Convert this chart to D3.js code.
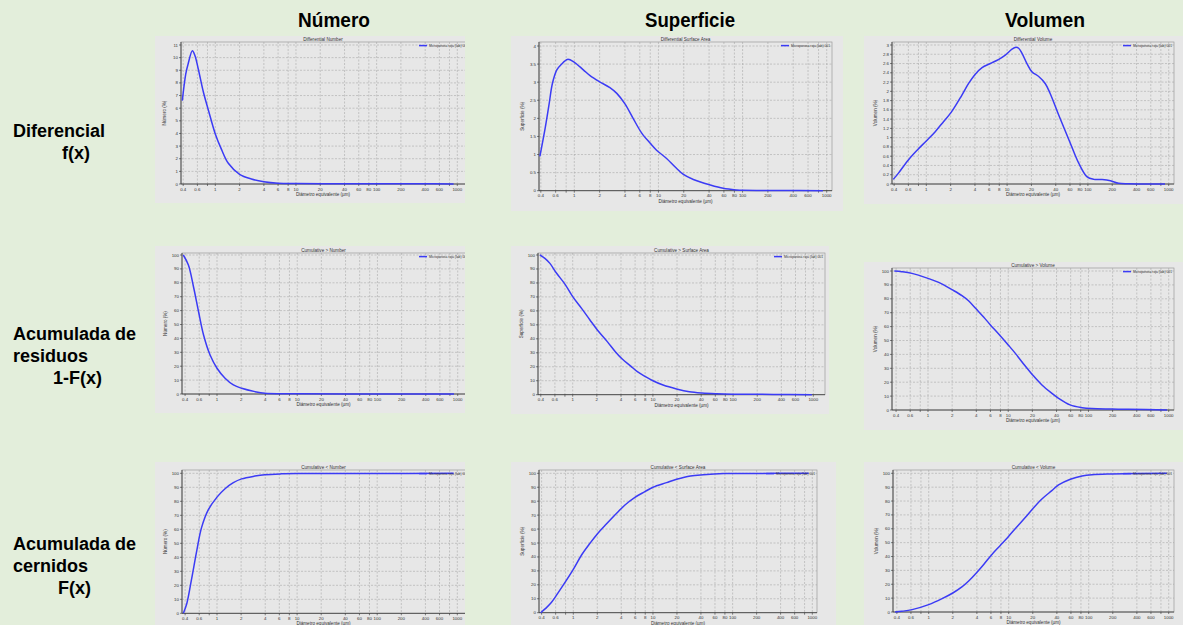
<!DOCTYPE html>
<html>
<head>
<meta charset="utf-8">
<script src="https://cdn.jsdelivr.net/npm/d3@7"></script>
<style>
  body { margin: 0; background: #e3eedb; }
  svg { display: block; font-family: "Liberation Sans", Arial, sans-serif; }
  .panel-box { fill: #e7e7e7; }
  .grid line { stroke: #a9a9a9; stroke-width: 0.6; stroke-dasharray: 2,1.5; }
  .frame { fill: none; stroke: #9a9a9a; stroke-width: 0.7; }
  .axis-line { stroke: #333; stroke-width: 0.8; }
  .tick-mark { stroke: #333; stroke-width: 0.6; }
  .tick-label { font-size: 4.4px; fill: #333; }
  .small-label { font-size: 4.6px; fill: #333; }
  .curve { fill: none; stroke: #3b3bf5; stroke-width: 1.5; }
  .header { font-size: 21px; font-weight: bold; fill: #000; }
  .row-label { font-size: 18px; font-weight: bold; fill: #000; }
</style>
</head>
<body>
<div id="chart"></div>
<script>
// Distribución granulométrica - microporosa roja (lab) 001
// 3 columnas (Número / Superficie / Volumen) x 3 filas (f(x), 1-F(x), F(x))

// DATA — diámetro equivalente (µm) y valor (%)
const diamNumDiff = [0.39, 0.43, 0.46, 0.52, 0.56, 0.62, 0.71, 0.82, 1, 1.2, 1.45, 2, 2.8, 4, 6, 10, 30, 100, 350, 900];
const numDiff     = [6.6, 8.7, 9.5, 10.55, 10.15, 9.0, 7.3, 5.86, 3.96, 2.7, 1.64, 0.77, 0.4, 0.18, 0.06, 0.03, 0.02, 0.02, 0.02, 0.0];

const diamSurfDiff = [0.39, 0.45, 0.5, 0.55, 0.62, 0.7, 0.83, 1, 1.28, 1.54, 2, 2.65, 3.2, 4, 5, 6.3, 8, 9.5, 12.5, 15.7, 19.8, 26, 41, 59, 85, 100, 300, 900];
const surfDiff     = [0.95, 1.72, 2.37, 2.97, 3.34, 3.49, 3.63, 3.55, 3.34, 3.18, 3.01, 2.85, 2.69, 2.4, 2.0, 1.6, 1.31, 1.12, 0.89, 0.66, 0.45, 0.31, 0.16, 0.065, 0.02, 0.01, 0.005, 0];

const diamVolDiff = [0.39, 0.45, 0.6, 0.77, 1, 1.29, 1.64, 2.04, 2.76, 3.34, 4.04, 4.9, 6.2, 7.9, 9.5, 11.5, 12.9, 13.9, 15.3, 17.6, 20.3, 24.6, 29.6, 34, 43.5, 60.6, 77, 97, 118, 150, 190, 240, 320, 900];
const volDiff     = [0.1, 0.23, 0.52, 0.73, 0.93, 1.13, 1.35, 1.55, 1.92, 2.17, 2.37, 2.51, 2.6, 2.69, 2.78, 2.91, 2.95, 2.93, 2.82, 2.6, 2.42, 2.32, 2.17, 1.96, 1.49, 0.88, 0.45, 0.16, 0.1, 0.095, 0.07, 0.015, 0.005, 0];

const diamNumRes = [0.38, 0.44, 0.51, 0.59, 0.68, 0.82, 1, 1.26, 1.6, 2.03, 2.97, 3.96, 6.4, 10, 100, 900];
const numRes     = [100, 92.8, 77, 59, 42.4, 28, 18.5, 11.3, 6.5, 4.1, 1.7, 0.5, 0.2, 0.1, 0.05, 0];

const diamSurfRes = [0.39, 0.45, 0.52, 0.63, 0.8, 1, 1.29, 1.64, 2.03, 2.7, 3.4, 4.15, 5.3, 6.4, 8.1, 10, 13.4, 19.7, 28.5, 40.8, 62, 100, 318, 960];
const surfRes     = [100, 97.6, 94, 86.9, 79.2, 70.2, 61.8, 53.5, 46.3, 38, 30.8, 25.5, 20.5, 16.5, 12.9, 10, 6.9, 4.1, 2.1, 1.2, 0.7, 0.4, 0.2, 0];

const diamVolRes = [0.38, 0.47, 0.63, 1, 1.36, 1.99, 2.65, 3.2, 4, 4.93, 5.96, 7.6, 10, 12.2, 16.3, 20, 26.3, 35, 42, 59, 83, 110, 196, 315, 955];
const volRes     = [100, 99.5, 98.3, 94.7, 91.8, 86.6, 82.3, 78.6, 72.6, 66.9, 61.4, 54.7, 46.8, 40.9, 31.6, 25.4, 18, 12, 8.6, 3.7, 1.7, 1, 0.7, 0.5, 0];

const diamNumCum = [0.38, 0.42, 0.48, 0.56, 0.64, 0.78, 1, 1.26, 1.6, 2.03, 2.97, 3.96, 6.4, 10, 100, 900];
const numCum     = [0, 7, 24, 45, 61, 74, 83, 89, 93.3, 96, 98, 99, 99.6, 99.8, 99.9, 100];

const diamSurfCum = [0.39, 0.45, 0.52, 0.59, 0.75, 1, 1.27, 1.62, 2, 2.6, 3.5, 4.45, 5.94, 7.9, 10, 14.8, 19.8, 29.5, 43, 78, 200, 900];
const surfCum     = [0, 3.1, 6.7, 11, 19.9, 31.1, 41.4, 49.8, 56.5, 63.6, 71.3, 77.3, 82.8, 86.8, 90, 93.3, 95.7, 98.1, 99, 99.8, 99.9, 100];

const diamVolCum = [0.38, 0.46, 0.62, 1, 1.47, 2, 2.6, 3.16, 3.94, 4.9, 6.06, 7.9, 10, 12.7, 16.2, 20, 26, 34.6, 42, 59, 82.5, 110, 195, 950];
const volCum     = [0, 0.5, 1.7, 5.3, 9.6, 13.7, 18.1, 22.4, 28.2, 34.5, 41, 48.2, 54.7, 61.5, 68.3, 74.5, 81.5, 87.5, 91.6, 95.7, 98.1, 99, 99.5, 100];

// TICKS
const xGridTicks  = [0.4, 0.6, 0.8, 1, 2, 4, 6, 8, 10, 20, 40, 60, 80, 100, 200, 400, 600, 800, 1000];
const xLabelTicks = [0.4, 0.6, 1, 2, 4, 6, 8, 10, 20, 40, 60, 80, 100, 200, 400, 600, 1000];
const yTicksNumDiff  = [0, 1, 2, 3, 4, 5, 6, 7, 8, 9, 10, 11];
const yTicksSurfDiff = [0, 0.5, 1, 1.5, 2, 2.5, 3, 3.5, 4];
const yTicksVolDiff  = [0, 0.2, 0.4, 0.6, 0.8, 1, 1.2, 1.4, 1.6, 1.8, 2, 2.2, 2.4, 2.6, 2.8, 3];
const yTicksPct      = [0, 10, 20, 30, 40, 50, 60, 70, 80, 90, 100];

// TEXTS
const columnHeaders = ["Número", "Superficie", "Volumen"];
const yAxisLabels   = ["Número (%)", "Superficie (%)", "Volumen (%)"];
const panelTitles = [
  "Differential Number", "Differential Surface Area", "Differential Volume",
  "Cumulative > Number", "Cumulative > Surface Area", "Cumulative > Volume",
  "Cumulative < Number", "Cumulative < Surface Area", "Cumulative < Volume"
];
const rowLabels = [
  [{ t: "Diferencial", x: 13, y: 137 }, { t: "f(x)", x: 62, y: 159 }],
  [{ t: "Acumulada de", x: 13, y: 340 }, { t: "residuos", x: 13, y: 362 }, { t: "1-F(x)", x: 53, y: 384 }],
  [{ t: "Acumulada de", x: 13, y: 550 }, { t: "cernidos", x: 13, y: 572 }, { t: "F(x)", x: 58, y: 594 }]
];
const legendText = "Microporosa roja (lab) 001";
const xAxisLabel = "Diámetro equivalente (µm)";

// LAYOUT — gray box, plot frame, pixel of 1 µm / 1000 µm, pixel of 0 / top tick
const panels = [
  { box: [155, 36, 310, 167], l: 181, r: 470, t: 42,  b: 184,   yTopPx: 45,    x1: 215.3, x1000: 457.3, yt: yTicksNumDiff,  dx: diamNumDiff,  dy: numDiff },
  { box: [511, 36, 332, 175], l: 539, r: 832, t: 42,  b: 190.7, yTopPx: 46,    x1: 574.3, x1000: 826.7, yt: yTicksSurfDiff, dx: diamSurfDiff, dy: surfDiff },
  { box: [864, 36, 319, 168], l: 892, r: 1174, t: 42, b: 184,   yTopPx: 45,    x1: 926.3, x1000: 1168.7, yt: yTicksVolDiff, dx: diamVolDiff,  dy: volDiff },
  { box: [155, 246, 310, 167], l: 182, r: 470, t: 253, b: 394,  yTopPx: 255,   x1: 217,   x1000: 457.7, yt: yTicksPct, dx: diamNumRes,  dy: numRes },
  { box: [511, 246, 318, 168], l: 538, r: 825, t: 253, b: 394.7, yTopPx: 255,  x1: 572.7, x1000: 813.3, yt: yTicksPct, dx: diamSurfRes, dy: surfRes },
  { box: [864, 262, 319, 168], l: 892, r: 1174, t: 268, b: 410, yTopPx: 271,   x1: 928,   x1000: 1168.7, yt: yTicksPct, dx: diamVolRes, dy: volRes },
  { box: [155, 462, 310, 163], l: 182, r: 470, t: 470, b: 613.3, yTopPx: 473.3, x1: 217,  x1000: 457.3, yt: yTicksPct, dx: diamNumCum,  dy: numCum },
  { box: [511, 462, 325, 163], l: 539, r: 817, t: 470, b: 612.7, yTopPx: 473.3, x1: 573.3, x1000: 812.3, yt: yTicksPct, dx: diamSurfCum, dy: surfCum },
  { box: [864, 462, 319, 163], l: 893, r: 1174, t: 470, b: 612, yTopPx: 473.3, x1: 928.7, x1000: 1168.7, yt: yTicksPct, dx: diamVolCum, dy: volCum }
];

const width = 1183, height = 625;
const svg = d3.select("#chart").append("svg")
  .attr("width", width)
  .attr("height", height);

// HEADERS
const headerX = [334, 690, 1045];
const headerW = [72, 90, 80];
columnHeaders.forEach((h, i) => {
  svg.append("text")
    .attr("class", "header")
    .attr("x", headerX[i] - headerW[i] / 2)
    .attr("y", 27)
    .attr("textLength", headerW[i])
    .attr("lengthAdjust", "spacingAndGlyphs")
    .text(h);
});

// ROW LABELS
rowLabels.forEach(lines => {
  lines.forEach(l => {
    svg.append("text").attr("class", "row-label")
      .attr("x", l.x).attr("y", l.y).text(l.t);
  });
});

// PANELS
panels.forEach((p, i) => {
  const col = i % 3;
  const yMax = p.yt[p.yt.length - 1];
  const xScale = d3.scaleLog().domain([1, 1000]).range([p.x1, p.x1000]);
  const yScale = d3.scaleLinear().domain([0, yMax]).range([p.b, p.yTopPx]);

  const clipId = "clip" + i;
  svg.append("clipPath").attr("id", clipId)
    .append("rect")
    .attr("x", p.box[0]).attr("y", p.box[1])
    .attr("width", p.box[2]).attr("height", p.box[3]);

  const g = svg.append("g").attr("clip-path", `url(#${clipId})`);

  g.append("rect").attr("class", "panel-box")
    .attr("x", p.box[0]).attr("y", p.box[1])
    .attr("width", p.box[2]).attr("height", p.box[3]);

  // grid
  const grid = g.append("g").attr("class", "grid");
  xGridTicks.forEach(v => {
    grid.append("line")
      .attr("x1", xScale(v)).attr("x2", xScale(v))
      .attr("y1", p.t).attr("y2", p.b);
  });
  p.yt.forEach(v => {
    if (v === 0) return;
    grid.append("line")
      .attr("x1", p.l).attr("x2", p.r)
      .attr("y1", yScale(v)).attr("y2", yScale(v));
  });

  // frame
  g.append("rect").attr("class", "frame")
    .attr("x", p.l).attr("y", p.t)
    .attr("width", p.r - p.l).attr("height", p.b - p.t);
  g.append("line").attr("class", "axis-line")
    .attr("x1", p.l).attr("x2", p.l).attr("y1", p.t).attr("y2", p.b);
  g.append("line").attr("class", "axis-line")
    .attr("x1", p.l).attr("x2", p.r).attr("y1", p.b).attr("y2", p.b);

  // y ticks
  p.yt.forEach(v => {
    g.append("line").attr("class", "tick-mark")
      .attr("x1", p.l - 2).attr("x2", p.l)
      .attr("y1", yScale(v)).attr("y2", yScale(v));
    g.append("text").attr("class", "tick-label")
      .attr("x", p.l - 3).attr("y", yScale(v) + 1.5)
      .attr("text-anchor", "end")
      .text(v);
  });

  // x ticks
  xGridTicks.forEach(v => {
    g.append("line").attr("class", "tick-mark")
      .attr("x1", xScale(v)).attr("x2", xScale(v))
      .attr("y1", p.b).attr("y2", p.b + 2);
  });
  xLabelTicks.forEach(v => {
    g.append("text").attr("class", "tick-label")
      .attr("x", xScale(v)).attr("y", p.b + 6.5)
      .attr("text-anchor", "middle")
      .text(v);
  });

  // axis labels + title
  g.append("text").attr("class", "small-label")
    .attr("x", (p.l + Math.min(p.r, p.box[0] + p.box[2])) / 2).attr("y", p.b + 12)
    .attr("text-anchor", "middle")
    .text(xAxisLabel);

  g.append("text").attr("class", "small-label")
    .attr("transform", `translate(${p.l - 15},${(p.t + p.b) / 2}) rotate(-90)`)
    .attr("text-anchor", "middle")
    .text(yAxisLabels[col]);

  g.append("text").attr("class", "small-label")
    .attr("x", (p.l + Math.min(p.r, p.box[0] + p.box[2])) / 2).attr("y", p.t - 1.5)
    .attr("text-anchor", "middle")
    .text(panelTitles[i]);

  // curve
  const pts = p.dx.map((d, k) => [d, p.dy[k]]);
  const line = d3.line()
    .x(d => xScale(d[0]))
    .y(d => yScale(d[1]))
    .curve(d3.curveCatmullRom.alpha(0.5));
  g.append("path").datum(pts).attr("class", "curve").attr("d", line);

  // legend
  const legW = 39;
  g.append("text").attr("class", "small-label")
    .attr("x", p.r - 2 - legW).attr("y", p.t + 5)
    .attr("textLength", legW)
    .attr("lengthAdjust", "spacingAndGlyphs")
    .style("font-size", "4px")
    .text(legendText);
  g.append("line")
    .attr("x1", p.r - 2 - legW - 10).attr("x2", p.r - 2 - legW - 2)
    .attr("y1", p.t + 3.6).attr("y2", p.t + 3.6)
    .style("stroke", "#3b3bf5").style("stroke-width", 1.5);
});
</script>
</body>
</html>
